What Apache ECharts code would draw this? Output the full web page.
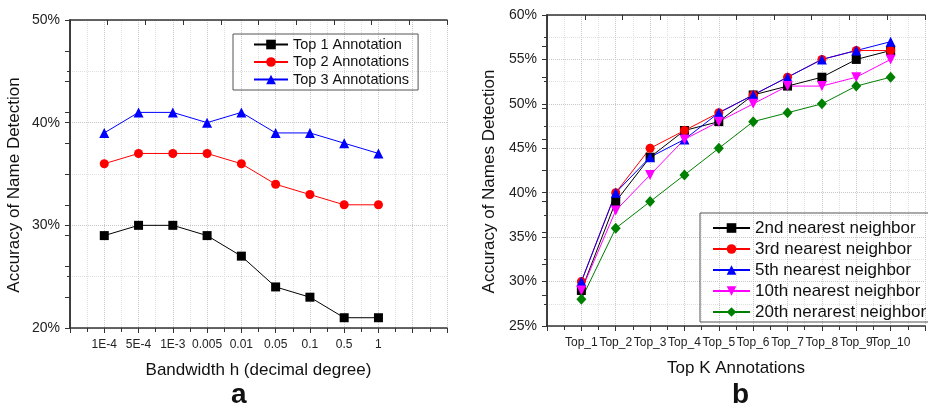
<!DOCTYPE html>
<html>
<head>
<meta charset="utf-8">
<script src="https://cdn.jsdelivr.net/npm/echarts@6/dist/echarts.min.js"></script>
<style>
  html, body { margin: 0; padding: 0; background: #fff; }
  #main { width: 928px; height: 405px; }
</style>
</head>
<body>
<div id="main"></div>
<script>
// panel a
var bandwidths = ['1E-4', '5E-4', '1E-3', '0.005', '0.01', '0.05', '0.1', '0.5', '1'];
var top1 = [29, 30, 30, 29, 27, 24, 23, 21, 21];
var top2 = [36, 37, 37, 37, 36, 34, 33, 32, 32];
var top3 = [39, 41, 41, 40, 41, 39, 39, 38, 37];

// panel b
var topK = ['Top_1', 'Top_2', 'Top_3', 'Top_4', 'Top_5', 'Top_6', 'Top_7', 'Top_8', 'Top_9', 'Top_10'];
var nn2 = [29, 39, 44, 47, 48, 51, 52, 53, 55, 56];
var nn3 = [30, 40, 45, 47, 49, 51, 53, 55, 56, 56];
var nn5 = [30, 40, 44, 46, 49, 51, 53, 55, 56, 57];
var nn10 = [29, 38, 42, 46, 48, 50, 52, 52, 53, 55];
var nn20 = [28, 36, 39, 42, 45, 48, 49, 50, 52, 53];

var font = 'Liberation Sans, Arial, sans-serif';
var axisCol = '#333';

let chart = echarts.init(document.getElementById('main'), null, { renderer: 'canvas' });

// put values at positions 1..n of the x value axis
let pts = (arr) => arr.map((v, i) => [i + 1, v]);

let mk = (name, data, color, symbol, size, xi, yi, rot) => ({
  name: name,
  type: 'line',
  xAxisIndex: xi,
  yAxisIndex: yi,
  data: pts(data),
  symbol: symbol,
  symbolSize: size,
  symbolRotate: rot || 0,
  itemStyle: { color: color },
  lineStyle: { color: color, width: 1 },
  emphasis: { disabled: true },
  animation: false
})

// bottom x axis shared settings
let bottomX = (gi, max, cats) => ({
  type: 'value',
  gridIndex: gi,
  position: 'bottom',
  min: 0,
  max: max,
  interval: 1,
  axisLine: { lineStyle: { color: axisCol, width: 1.5 } },
  axisTick: { show: true, length: 5, lineStyle: { color: axisCol } },
  minorTick: { show: true, splitNumber: 2, length: 4, lineStyle: { color: axisCol } },
  axisLabel: {
    margin: 11,
    fontSize: 12,
    fontFamily: font,
    color: '#222',
    formatter: (v) => cats[v - 1] || ''
  },
  splitLine: { show: true, lineStyle: { color: '#c8c8c8', type: 'dotted' } },
  minorSplitLine: { show: true, lineStyle: { color: '#e0e0e0', type: 'dotted' } },
  nameLocation: 'middle',
  nameGap: 34,
  nameTextStyle: { fontSize: 17, fontFamily: font, color: '#111' }
})

// frame axes on top / right with inward ticks
let frameX = (gi) => ({
  type: 'value', gridIndex: gi, position: 'top', min: 0, max: 10, interval: 1,
  axisLine: { show: true, lineStyle: { color: axisCol, width: 1.5 } },
  axisTick: { show: true, inside: true, length: 5, lineStyle: { color: axisCol } },
  axisLabel: { show: false },
  splitLine: { show: false }
})
let frameY = (gi) => ({
  type: 'value', gridIndex: gi, position: 'right', min: 0, max: 10, interval: 1,
  axisLine: { show: true, lineStyle: { color: axisCol, width: 1.5 } },
  axisTick: { show: true, inside: true, length: 5, lineStyle: { color: axisCol } },
  axisLabel: { show: false },
  splitLine: { show: false }
})

let leftY = (gi, min, max, step, name, gap) => ({
  type: 'value',
  gridIndex: gi,
  position: 'left',
  min: min,
  max: max,
  interval: step,
  axisLine: { show: true, lineStyle: { color: axisCol, width: 1.5 } },
  axisTick: { show: true, length: 5, lineStyle: { color: axisCol } },
  minorTick: { show: true, splitNumber: 2, length: 3, lineStyle: { color: axisCol } },
  axisLabel: {
    margin: 10,
    fontSize: 14,
    fontFamily: font,
    color: '#222',
    formatter: '{value}%'
  },
  splitLine: { show: true, lineStyle: { color: '#c8c8c8', type: 'dotted' } },
  minorSplitLine: { show: true, lineStyle: { color: '#e0e0e0', type: 'dotted' } },
  name: name,
  nameLocation: 'middle',
  nameGap: gap,
  nameTextStyle: { fontSize: 17, fontFamily: font, color: '#111', padding: [0, 22, 0, 0] }
})

let option = {
  backgroundColor: '#fff',
  animation: false,
  title: [
    { text: 'a', left: 226, top: 376, textStyle: { fontSize: 28, fontWeight: 'bold', fontFamily: font, color: '#111' } },
    { text: 'b', left: 727, top: 376, textStyle: { fontSize: 28, fontWeight: 'bold', fontFamily: font, color: '#111' } }
  ],
  grid: [
    { left: 70, top: 20, width: 377, height: 308 },
    { left: 547, top: 15, width: 379, height: 311 }
  ],
  xAxis: [
    Object.assign(bottomX(0, 11, bandwidths), { name: 'Bandwidth h (decimal degree)' }),
    frameX(0),
    Object.assign(bottomX(1, 11, topK), { name: 'Top K Annotations' }),
    frameX(1)
  ],
  yAxis: [
    leftY(0, 20, 50, 10, 'Accuracy of Name Detection', 47),
    frameY(0),
    leftY(1, 25, 60, 5, 'Accuracy of Names Detection', 49),
    frameY(1)
  ],
  legend: [
    {
      data: ['Top 1 Annotation', 'Top 2 Annotations', 'Top 3 Annotations'],
      orient: 'vertical',
      left: 233,
      top: 34,
      padding: [3, 9, 3, 20],
      itemWidth: 34,
      itemHeight: 12,
      itemGap: 2.5,
      borderColor: '#555',
      borderWidth: 1,
      selectedMode: false,
      textStyle: { fontSize: 14.5, fontFamily: font, color: '#111', lineHeight: 15 }
    },
    {
      data: ['2nd nearest neighbor', '3rd nearest neighbor', '5th nearest neighbor', '10th nearest neighbor', '20th nerarest neighbor'],
      orient: 'vertical',
      left: 700,
      top: 213,
      padding: [6, 10, 1, 12],
      itemWidth: 37,
      itemHeight: 12,
      itemGap: 3,
      borderColor: '#555',
      borderWidth: 1,
      selectedMode: false,
      textStyle: { fontSize: 17, fontFamily: font, color: '#111', lineHeight: 18 }
    }
  ],
  series: [
    mk('Top 1 Annotation', top1, '#000000', 'rect', 9, 0, 0),
    mk('Top 2 Annotations', top2, '#ff0000', 'circle', 9, 0, 0),
    mk('Top 3 Annotations', top3, '#0000ff', 'triangle', 10, 0, 0),

    mk('2nd nearest neighbor', nn2, '#000000', 'rect', 9, 2, 2),
    mk('3rd nearest neighbor', nn3, '#ff0000', 'circle', 9, 2, 2),
    mk('5th nearest neighbor', nn5, '#0000ff', 'triangle', 10, 2, 2),
    mk('10th nearest neighbor', nn10, '#ff00ff', 'triangle', 10, 2, 2, 180),
    mk('20th nerarest neighbor', nn20, '#008000', 'diamond', [10, 11], 2, 2)
  ]
}

chart.setOption(option)
</script>
</body>
</html>
